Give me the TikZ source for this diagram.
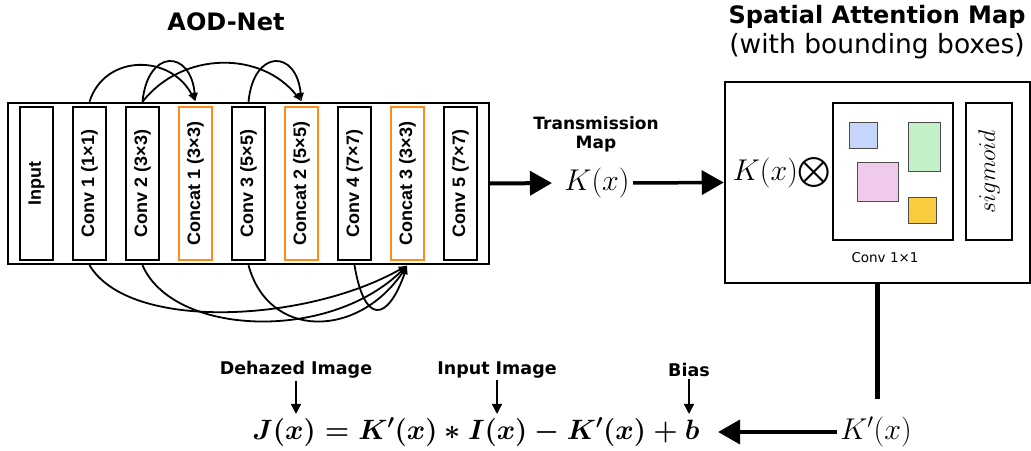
\RequirePackage{fix-cm}
\documentclass[tikz,border=0pt]{standalone}
\usepackage{amsmath, amssymb}
\usepackage[no-math]{fontspec}
\setmainfont{Liberation Sans}
\newfontfamily\dejavu{DejaVu Sans}
\usepackage{graphicx}
\usepackage{tikz}
\usetikzlibrary{shapes, arrows.meta, positioning, calc, fit}
\definecolor{concatorange}{RGB}{255,140,26}
\definecolor{boxblue}{RGB}{198,213,250}
\definecolor{boxgreen}{RGB}{196,240,201}
\definecolor{boxpink}{RGB}{240,202,234}
\definecolor{boxyellow}{RGB}{250,205,64}
\tikzset{
    layer/.style={rectangle, draw, line width=2pt, fill=white, minimum width=33pt, minimum height=153pt, inner sep=0pt, font=\fontsize{18}{21}\selectfont\bfseries},
    concat/.style={layer, draw=concatorange},
    skiparrow/.style={line width=1.8pt, -{Latex[length=9pt, width=7pt]}},
    bigarrow/.style={line width=4pt, -{Triangle[length=22pt, width=24pt]}},
    tagtext/.style={font=\dejavu\bfseries\fontsize{17.5}{20}\selectfont, inner sep=2pt},
    tagarrow/.style={line width=1.5pt, -{Triangle[length=10pt, width=10pt]}},
    bbox/.style={draw=black!70, line width=0.8pt, inner sep=0pt},
    mathtext/.style={font=\fontsize{30}{35}\selectfont}
}

\begin{document}
\begin{tikzpicture}[x=1pt, y=1pt, node distance=18pt]
    \path[use as bounding box, fill=white] (0,0) rectangle (1031,450);

    % AOD-Net layers
    \node[layer] (input) at (36.5,266.5) {\rotatebox{90}{Input}};
    \node[layer, right=of input] (conv1) {\rotatebox{90}{Conv 1 (1×1)}};
    \node[layer, right=of conv1] (conv2) {\rotatebox{90}{Conv 2 (3×3)}};
    \node[concat, right=of conv2] (concat1) {\rotatebox{90}{Concat 1 (3×3)}};
    \node[layer, right=of concat1] (conv3) {\rotatebox{90}{Conv 3 (5×5)}};
    \node[concat, right=of conv3] (concat2) {\rotatebox{90}{Concat 2 (5×5)}};
    \node[layer, right=of concat2] (conv4) {\rotatebox{90}{Conv 4 (7×7)}};
    \node[concat, right=of conv4] (concat3) {\rotatebox{90}{Concat 3 (3×3)}};
    \node[layer, right=of concat3] (conv5) {\rotatebox{90}{Conv 5 (7×7)}};
    \node[draw, line width=2.4pt, inner xsep=11pt, inner ysep=3pt, fit=(input)(conv5)] (net) {};
    \node[font=\dejavu\bfseries\fontsize{24}{28}\selectfont] (aodtitle) at (226,428) {AOD-Net};

    % skip connections
    \draw[skiparrow] (conv1 |- net.north) .. controls +(15,48) and +(-25,48) .. (concat1 |- net.north);
    \draw[skiparrow] (conv2 |- net.north) .. controls +(5,53) and +(-5,53) .. (concat1 |- net.north);
    \draw[skiparrow] (conv2 |- net.north) .. controls +(40,51) and +(-40,51) .. (concat2 |- net.north);
    \draw[skiparrow] (conv3 |- net.north) .. controls +(5,53) and +(-5,53) .. (concat2 |- net.north);
    \draw[skiparrow] (conv1 |- net.south) .. controls +(40,-67) and +(-100,-57) .. (concat3 |- net.south);
    \draw[skiparrow] (conv2 |- net.south) .. controls +(30,-70) and +(-80,-78) .. (concat3 |- net.south);
    \draw[skiparrow] (conv3 |- net.south) .. controls +(20,-74) and +(-50,-74) .. (concat3 |- net.south);
    \draw[skiparrow] (conv4 |- net.south) .. controls +(10,-60) and +(-20,-57) .. (concat3 |- net.south);

    % transmission map
    \node[tagtext, align=center, font=\dejavu\bfseries\fontsize{17}{19}\selectfont] (tmap) at (596,316) {Transmission\\Map};
    \node[mathtext] (kx) at (597,267) {$K(x)$};

    % spatial attention map
    \node[draw, line width=2.5pt, minimum width=305pt, minimum height=201pt] (att) at (877.5,267.5) {};
    \node[align=center, font=\dejavu\fontsize{24}{30}\selectfont] (samtitle) at (877,418) {\bfseries Spatial Attention Map\\{\fontsize{26.5}{30}\selectfont (with bounding boxes)}};
    \node[mathtext] (kxo) at (782,277) {$K(x){\bigotimes}$};
    \node[draw, line width=2pt, minimum width=120pt, minimum height=137pt] (convbox) at (893,278.5) {};
    \node[draw, line width=2pt, minimum width=46pt, minimum height=137pt, font=\fontsize{24}{28}\selectfont] (sigbox) at (989,278.5) {\rotatebox{90}{$sigmoid$}};
    \node[font=\dejavu\fontsize{13.5}{16}\selectfont] (convlabel) at (885,192) {Conv 1×1};
    \node[bbox, fill=boxblue, minimum width=28pt, minimum height=26pt] (bblue) at (863,315) {};
    \node[bbox, fill=boxgreen, minimum width=32pt, minimum height=49pt] (bgreen) at (924,303.5) {};
    \node[bbox, fill=boxpink, minimum width=41pt, minimum height=39pt] (bpink) at (877.5,268.5) {};
    \node[bbox, fill=boxyellow, minimum width=28pt, minimum height=26pt] (byellow) at (922,240) {};

    % output
    \node[mathtext] (kp) at (876,18) {$K^{\prime}(x)$};
    \node[font=\fontsize{28}{33}\selectfont\boldmath] (formula) at (476,18) {$J(x) = K^{\prime}(x) * I(x) - K^{\prime}(x) + b$};
    \node[tagtext] (dehazed) at (296,80) {Dehazed Image};
    \node[tagtext] (inimg) at (497,80) {Input Image};
    \node[tagtext] (bias) at (689,80) {Bias};
    \coordinate (jxpt) at (296,36);
    \coordinate (ixpt) at (497,36);
    \coordinate (bpt) at (689,36);

    % arrows
    \draw[bigarrow, shorten >=9pt] (net.east) -- (kx.west);
    \draw[bigarrow, line width=3.5pt] (kx.east) -- (att.west);
    \draw[line width=4.5pt, shorten >=14pt] (att.south) -- (att.south |- kp.north);
    \draw[bigarrow, shorten >=15pt] (kp.west) -- (formula.east);
    \draw[tagarrow] (dehazed.south) -- (jxpt);
    \draw[tagarrow] (inimg.south) -- (ixpt);
    \draw[tagarrow] (bias.south) -- (bpt);
\end{tikzpicture}
\end{document}
